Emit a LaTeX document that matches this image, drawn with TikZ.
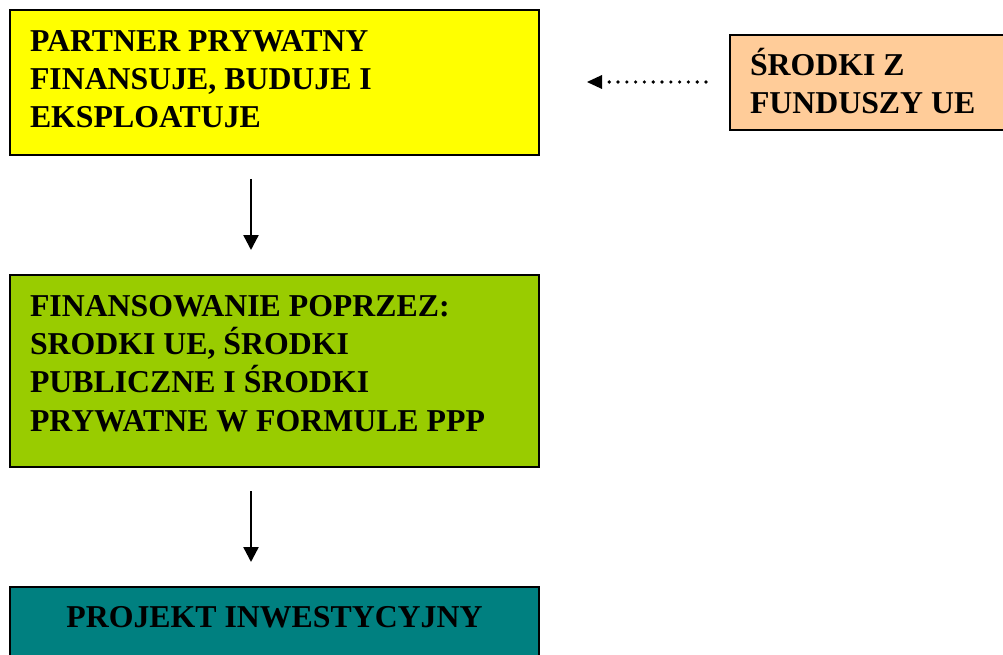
\documentclass[tikz,border=0pt]{standalone}
\usepackage{fontspec}
\setmainfont{Liberation Serif}
\usetikzlibrary{arrows.meta}
\definecolor{boxyellow}{HTML}{FFFF00}
\definecolor{boxpeach}{HTML}{FFCC99}
\definecolor{boxgreen}{HTML}{99CC00}
\definecolor{boxteal}{HTML}{008080}
\tikzset{
  panel/.style={draw=black, line width=2pt, inner sep=0pt, outer sep=0pt},
  label/.style={inner sep=0pt, outer sep=0pt, anchor=base west, align=left,
    font=\fontsize{31.8}{38.3}\selectfont\bfseries},
  flow/.style={line width=2.4pt, -{Triangle[length=15pt,width=15pt]}},
  feed/.style={line width=3.6pt, dash pattern=on 0pt off 8.8pt, line cap=round,
    -{Triangle[length=15pt,width=14pt,line cap=butt,line width=0pt]}},
}
\begin{document}
\begin{tikzpicture}[x=1pt, y=-1pt]
  \useasboundingbox (0,0) rectangle (1003,655);

  % boxes
  \node[panel, fill=boxyellow, minimum width=529pt, minimum height=145pt, anchor=north west] (partner) at (10,10) {};
  \node[panel, fill=boxpeach, minimum width=275pt, minimum height=95pt, anchor=north west] (fundusze) at (730,35) {};
  \node[panel, fill=boxgreen, minimum width=529pt, minimum height=192pt, anchor=north west] (finanse) at (10,275) {};
  \node[panel, fill=boxteal, minimum width=529pt, minimum height=90pt, anchor=north west] (projekt) at (10,587) {};

  % texts (anchored at the baseline of their last line)
  \node[label] (tpartner) at (30,128) {PARTNER PRYWATNY\\FINANSUJE, BUDUJE I\\EKSPLOATUJE};
  \node[label] (tfundusze) at (750,114) {ŚRODKI Z\\FUNDUSZY UE};
  \node[label] (tfinanse) at (30,431) {FINANSOWANIE POPRZEZ:\\SRODKI UE, ŚRODKI\\PUBLICZNE I ŚRODKI\\PRYWATNE W FORMULE PPP};
  \node[label, anchor=base] (tprojekt) at (274.5,627) {PROJEKT INWESTYCYJNY};

  % connector end points
  \coordinate (a1s) at (251,179);
  \coordinate (a1e) at (251,250);
  \coordinate (a2s) at (251,491);
  \coordinate (a2e) at (251,562);
  \coordinate (fs) at (706,82);
  \coordinate (fe) at (587,82);

  % connectors
  \draw[flow] (a1s) -- (a1e);
  \draw[flow] (a2s) -- (a2e);
  \draw[feed] (fs) -- (fe);
\end{tikzpicture}
\end{document}
